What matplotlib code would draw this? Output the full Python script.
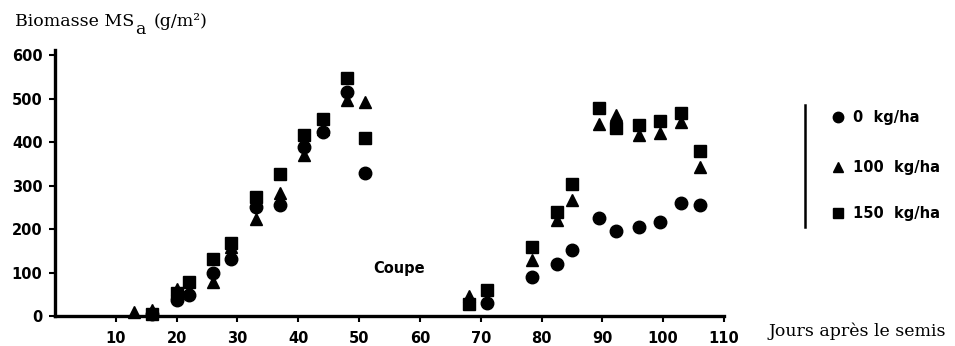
import numpy as np
import matplotlib
matplotlib.use("Agg")
import matplotlib.pyplot as plt
from matplotlib.lines import Line2D

# ---- data ----
days = [13, 16, 20, 22, 26, 29, 33, 37, 41, 44, 48, 51,
        68, 71, 78.5, 82.5, 85, 89.5, 92.3, 96, 99.5, 103, 106]
dose_0 = [np.nan, 5, 37, 48, 99, 130, 250, 255, 389, 423, 515, 329,
          np.nan, 30, 90, 120, 152, 225, 195, 205, 216, 260, 255]
dose_100 = [9, 14, 62, 60, 78, 158, 223, 282, 370, 430, 497, 492,
            45, np.nan, 129, 221, 267, 441, 462, 416, 421, 446, 342]
dose_150 = [np.nan, 5, 52, 78, 131, 168, 273, 326, 416, 453, 547, 409,
            28, 60, 159, 239, 303, 478, 432, 439, 448, 466, 379]
labels = ["0  kg/ha", "100  kg/ha", "150  kg/ha"]
x_ticks = list(range(10, 111, 10))
y_ticks = list(range(0, 601, 100))

W, H = 955, 346
fig = plt.figure(figsize=(W / 100, H / 100), dpi=100)
ax = fig.add_axes([55 / W, 1 - 316 / H, (724 - 55) / W, (316 - 50) / H])
ax.set_xlim(0, 110)
ax.set_ylim(0, 612)

tick_font = dict(family='DejaVu Sans', weight='bold', size=10.5)
serif = dict(family='DejaVu Serif', size=12.5)
ms = 9
ax.plot(days, dose_0, 'o', color='black', ms=ms, clip_on=False, zorder=3)
ax.plot(days, dose_100, '^', color='black', ms=ms, clip_on=False, zorder=3)
ax.plot(days, dose_150, 's', color='black', ms=ms - 0.5, clip_on=False, zorder=3)

for s in ['top', 'right']:
    ax.spines[s].set_visible(False)
for s in ['left', 'bottom']:
    ax.spines[s].set_linewidth(2.4)

ax.set_xticks(x_ticks)
ax.set_yticks(y_ticks)
ax.tick_params(axis='both', direction='out', length=4, width=1.5, pad=5)
ax.set_xticklabels([str(v) for v in x_ticks], fontdict=tick_font)
ax.set_yticklabels([str(v) for v in y_ticks], fontdict=tick_font)
ax.tick_params(axis='x', pad=7)

ax.text(56.5, 110, "Coupe", ha='center', va='center',
        family='DejaVu Sans', weight='bold', size=10.5)

# y label with real subscript, placed piece by piece
renderer = fig.canvas.get_renderer()
t1 = fig.text(15 / W, 1 - 21 / H, "Biomasse MS", ha='left', va='center', **serif)
bb = t1.get_window_extent(renderer)
t2 = fig.text(bb.x1 / W + 1 / W, 1 - 30 / H, "a", ha='left', va='center', **serif)
bb2 = t2.get_window_extent(renderer)
fig.text(bb2.x1 / W + 8 / W, 1 - 21 / H, "(g/m²)", ha='left', va='center', **serif)

fig.text(768 / W, 1 - 331 / H, "Jours après le semis", ha='left', va='center', **serif)

# legend
fig.add_artist(Line2D([805 / W, 805 / W], [1 - 105 / H, 1 - 227 / H],
                      color='black', lw=1.8))
markers = ['o', '^', 's']
ys = [117, 167, 213]
for m, y, lab in zip(markers, ys, labels):
    fig.add_artist(Line2D([838 / W], [1 - y / H], marker=m, color='black',
                          ms=ms - 1.5, linestyle='none'))
    fig.text(853 / W, 1 - y / H, lab, ha='left', va='center', **tick_font)

fig.savefig("out.png", dpi=100)
